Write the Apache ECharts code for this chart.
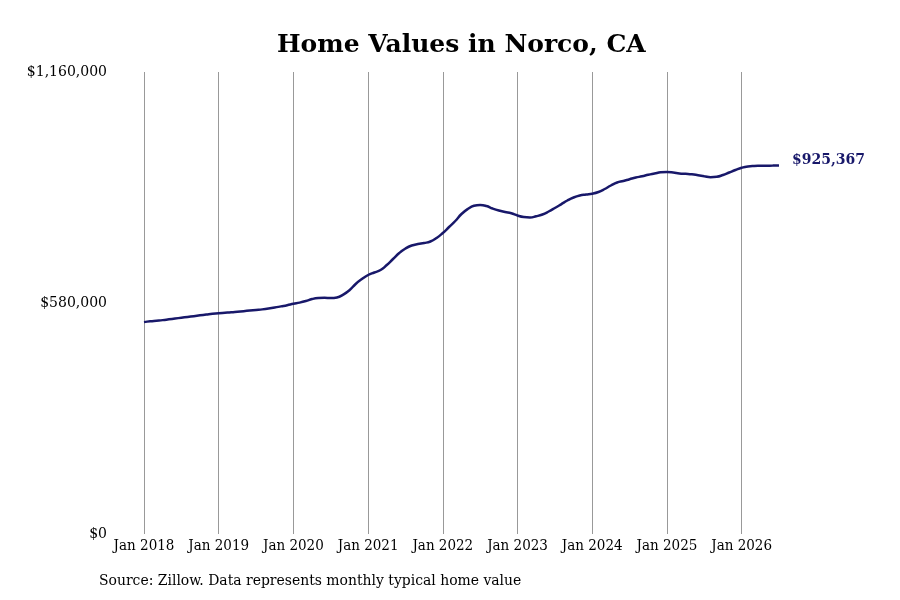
<!DOCTYPE html>
<html>
<head>
<meta charset="utf-8">
<script src="https://cdn.jsdelivr.net/npm/echarts@6/dist/echarts.min.js"></script>
<style>
  html, body { margin: 0; padding: 0; background: #fff; }
  #main { width: 900px; height: 600px; }
</style>
</head>
<body>
<div id="main"></div>
<script>
var years = [2018, 2019, 2020, 2021, 2022, 2023, 2024, 2025, 2026]
var monthNames = ['Jan', 'Feb', 'Mar', 'Apr', 'May', 'Jun', 'Jul', 'Aug', 'Sep', 'Oct', 'Nov', 'Dec']

// typical home value, Jan 2018 .. Jul 2026
var homeValues = [
  532000, 534000, 535500, 537000, 539000, 541000, 543000, 545000, 547000, 549000, 551000, 553000,
  554500, 555500, 556500, 558000, 559500, 561000, 562500, 564000, 566000, 568500, 571500, 574500,
  578000, 581000, 585000, 590000, 592500, 593000, 592500, 594000, 601000, 612000, 627700, 640200,
  650300, 656600, 662800, 675400, 690500, 705500, 716800, 724300, 728100, 730600, 734400, 743200,
  755700, 770800, 785900, 803500, 815900, 824000, 826000, 823500, 817200, 812200, 808500, 805200,
  799700, 795900, 794700, 797700, 802200, 809700, 818500, 827800, 837300, 844900, 849900, 852400,
  854400, 858700, 866200, 875000, 882500, 886300, 890800, 895100, 898100, 901900, 905100, 908200,
  908900, 907700, 905400, 904400, 903200, 900900, 898400, 895900, 896900, 901400, 907700, 913900,
  919500, 923000, 924200, 924500, 924700, 925000, 925367
]
var yTicks = [0, 580000, 1160000]

var months = []
years.forEach(function (y) {
  monthNames.forEach(function (m) {
    if (months.length < homeValues.length) months.push(m + ' ' + y)
  })
})

function money(v) {
  return '$' + v.toString().replace(/\B(?=(\d{3})+(?!\d))/g, ',')
}

var chart = echarts.init(document.getElementById('main'))
var option = {
  backgroundColor: '#fff',
  animation: false,
  title: [{
    text: 'Home Values in Norco, CA',
    left: 277,
    top: 33,
    padding: 0,
    textStyle: {
      fontFamily: 'DejaVu Serif',
      fontWeight: 'bold',
      fontSize: 25,
      color: '#000'
    }
  }, {
    text: 'Source: Zillow. Data represents monthly typical home value',
    left: 99,
    top: 573,
    padding: 0,
    textStyle: {
      fontFamily: 'DejaVu Serif Condensed',
      fontWeight: 'normal',
      fontSize: 15.5,
      color: '#000'
    }
  }],
  grid: {
    left: 144,
    right: 121,
    top: 72,
    bottom: 66,
    containLabel: false
  },
  xAxis: {
    type: 'category',
    data: months,
    boundaryGap: false,
    axisLine: { show: false },
    axisTick: { show: false },
    axisLabel: {
      interval: 11,
      margin: 5,
      fontFamily: 'DejaVu Serif Condensed',
      fontSize: 15,
      color: '#000'
    },
    splitLine: {
      show: true,
      interval: 11,
      lineStyle: { color: '#999', width: 1 }
    }
  },
  yAxis: {
    type: 'value',
    min: yTicks[0],
    max: yTicks[2],
    interval: yTicks[1],
    axisLine: { show: false },
    axisTick: { show: false },
    splitLine: { show: false },
    axisLabel: {
      margin: 37,
      fontFamily: 'DejaVu Serif',
      fontSize: 14,
      color: '#000',
      formatter: money
    }
  },
  series: [{
    type: 'line',
    data: homeValues,
    smooth: true,
    showSymbol: false,
    lineStyle: { color: '#18186a', width: 2.5 },
    itemStyle: { color: '#18186a' },
    endLabel: {
      show: true,
      distance: 13,
      offset: [0, -5],
      formatter: function (p) { return money(p.value) },
      fontFamily: 'DejaVu Serif',
      fontWeight: 'bold',
      fontSize: 14,
      color: '#18186a'
    }
  }]
}
chart.setOption(option)
</script>
</body>
</html>
